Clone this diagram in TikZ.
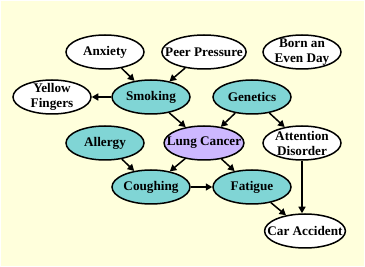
\documentclass[tikz,border=0pt]{standalone}
\usepackage{fontspec}
\setmainfont{Liberation Serif}
\usetikzlibrary{arrows.meta,shapes.geometric}
\definecolor{paper}{HTML}{FFFFDC}
\definecolor{cause}{HTML}{80D5D5}
\definecolor{target}{HTML}{CDB8FF}
\definecolor{ink}{HTML}{000000}
\tikzset{
  % ---- variables ------------------------------------------------
  var/.style      = {ellipse, draw=ink, line width=1.5pt, fill=white,
                     inner xsep=-9pt, inner ysep=-3pt,
                     minimum width=78pt, minimum height=34pt,
                     align=center, font=\fontsize{13.2}{15}\selectfont\bfseries},
  known/.style    = {var, fill=cause},
  query/.style    = {var, fill=target},
  % ---- dependencies ---------------------------------------------
  dep/.style      = {draw=ink, line width=1.5pt,
                     -{Triangle[length=6.5pt,width=7pt]}},
}

\begin{document}
\begin{tikzpicture}[x=1pt,y=-1pt]
  \fill[white] (0,0) rectangle (365,267);
  \fill[paper] (1,1) rectangle (364,266);
  \useasboundingbox (0,0) rectangle (365,267);
  % row 1
  \node[var] (anx) at (105,52) {Anxiety};
  \node[var] (peer) at (204,52) {Peer Pressure};
  \node[var] (born) at (302,52) {Born an\\Even Day};
  % row 2
  \node[var] (yel) at (52,97) {Yellow\\Fingers};
  \node[known] (smk) at (151,97) {Smoking};
  \node[known] (gen) at (252,97) {Genetics};
  % row 3
  \node[known] (alg) at (105,143) {Allergy};
  \node[query] (lc) at (204,143) {Lung Cancer};
  \node[var] (att) at (302,143) {Attention\\Disorder};
  % row 4
  \node[known] (cgh) at (151,187) {Coughing};
  \node[known] (fat) at (252,187) {Fatigue};
  \node[var] (car) at (305,231) {Car Accident};
  % edges
  \draw[dep] (anx) -- (smk);
  \draw[dep] (peer) -- (smk);
  \draw[dep] (smk) -- (yel);
  \draw[dep] (smk) -- (lc);
  \draw[dep] (gen) -- (lc);
  \draw[dep] (gen) -- (att);
  \draw[dep] (alg) -- (cgh);
  \draw[dep] (lc) -- (cgh);
  \draw[dep] (lc) -- (fat);
  \draw[dep] (cgh) -- (fat);
  \draw[dep] (fat) -- (car);
  \draw[dep] (att.south) -- (att.south |- car.north);
\end{tikzpicture}
\end{document}
